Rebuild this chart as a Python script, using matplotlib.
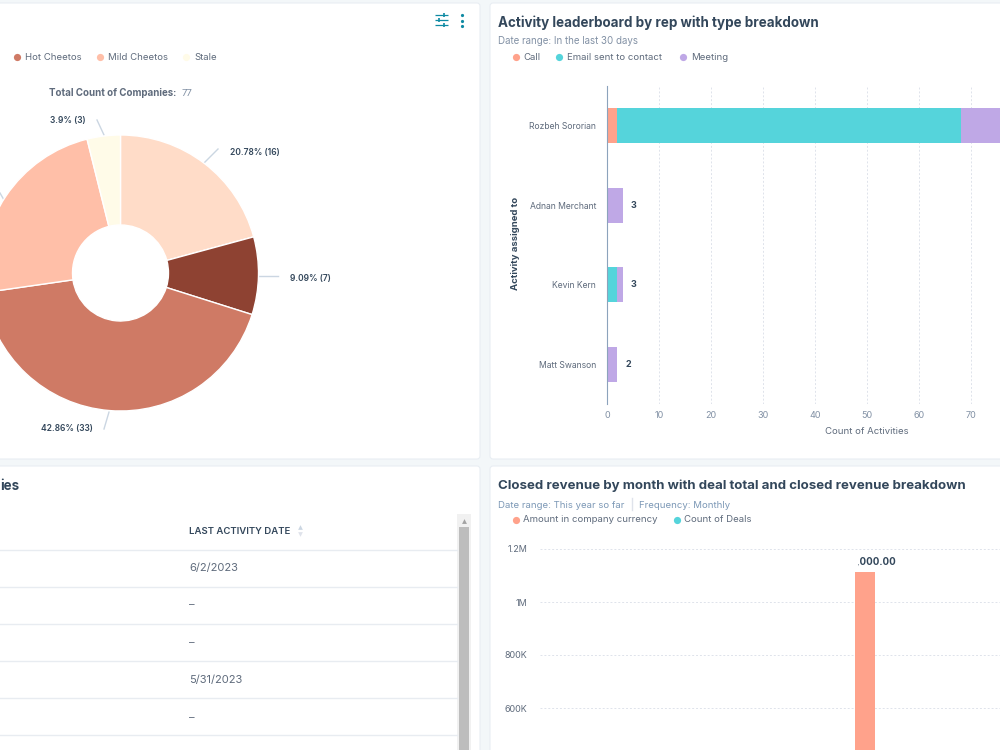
import matplotlib
matplotlib.use('Agg')
import matplotlib.pyplot as plt
from matplotlib.patches import FancyBboxPatch, Rectangle

plt.rcParams['font.family'] = ['Inter', 'DejaVu Sans']

# 회사 상태별 파이 차트 값
pie_values = [16, 7, 33, 18, 3]
pie_colors = ['#FFDCC8', '#8E4232', '#CF7A65', '#FFBFA8', '#FFFBE8']

# 담당자별 활동 수
reps = ['Rozbeh Sororian', 'Adnan Merchant', 'Kevin Kern', 'Matt Swanson']
calls = [2, 0, 0, 0]
emails = [66, 0, 2, 0]
meetings = [8, 3, 1, 2]
activity_ticks = [0, 10, 20, 30, 40, 50, 60, 70]

# 월별 매출
revenue_pos = [0]
revenue_amount = [1113000]
revenue_ticks = [600000, 800000, 1000000, 1200000]
revenue_tick_labels = ['600K', '800K', '1M', '1.2M']

# 표의 마지막 활동 날짜
last_activity = ['6/2/2023', '-', '-', '5/31/2023', '-']

DARK = '#33475B'
TEXT = '#5F6B7C'
MUTED = '#8291A5'
BLUE = '#7C98B6'
GRID = '#DFE3EB'
CALL = '#FFA28B'
EMAIL = '#55D4DB'
MEETING = '#BFA8E6'
TEAL = '#0F8AA3'

fig = plt.figure(figsize=(10, 7.5), dpi=100, facecolor='#F3F7F9')


def px_axes(left, top, right, bottom):
    return fig.add_axes([left / 1000, 1 - bottom / 750, (right - left) / 1000, (bottom - top) / 750])


# 배경 카드와 글자를 그리는 전체 좌표계
page = fig.add_axes([0, 0, 1, 1])
page.set_xlim(0, 1000)
page.set_ylim(750, 0)
page.axis('off')

for x0, y0, x1, y1 in [(-20, 3, 480, 459), (490, 3, 1020, 459), (-20, 466, 480, 770), (490, 466, 1020, 770)]:
    page.add_patch(FancyBboxPatch((x0, y0), x1 - x0, y1 - y0, boxstyle='round,pad=0,rounding_size=3',
                                  facecolor='white', edgecolor='#E9EEF3', linewidth=0.8))

# 오른쪽 위 아이콘
for y, knob in [(15, 444), (20, 439), (25, 444)]:
    page.plot([435, 448], [y, y], color=TEAL, lw=0.9, solid_capstyle='butt')
    page.plot([knob, knob], [y - 2, y + 2], color=TEAL, lw=1.2, solid_capstyle='butt')
for y in [15, 20.5, 26]:
    page.plot([462], [y], 'o', color=TEAL, ms=2.3, mew=0)


def legend(items, y):
    for dot_x, text_x, label, color in items:
        page.plot([dot_x], [y], 'o', color=color, ms=5.2, mew=0)
        page.text(text_x, y, label, fontsize=6.9, color=TEXT, va='center')


# 왼쪽 위: 파이 차트 주변 텍스트
legend([(17, 25, 'Hot Cheetos', '#CF7A65'), (100, 108, 'Mild Cheetos', '#FFBFA8'),
        (186, 194, 'Stale', '#FFFBE8')], 57)
page.text(49, 93, 'Total Count of Companies:', fontsize=7.0, fontweight='bold', color=TEXT, va='center')
page.text(182, 93, '77', fontsize=6.9, color=MUTED, va='center')

pie_labels = [(50, 121, '3.9% (3)'), (230, 152, '20.78% (16)'), (290, 278, '9.09% (7)'), (41, 428, '42.86% (33)')]
for x, y, label in pie_labels:
    page.text(x, y, label, fontsize=6.1, fontweight='semibold', color=DARK, va='center')
for xs, ys in [([97, 104], [120, 135]), ([218, 204], [149, 163]), ([258, 278], [276, 276]),
               ([109, 104], [412, 429]), ([0, 4], [193, 200])]:
    page.plot(xs, ys, color='#CBD6E2', lw=1)

# 오른쪽 위: 제목과 범례
page.text(498, 23, 'Activity leaderboard by rep with type breakdown', fontsize=9.65, fontweight='bold',
          color=DARK, va='center')
page.text(498, 41, 'Date range: In the last 30 days', fontsize=7.0, color=MUTED, va='center')
legend([(516, 523, 'Call', CALL), (559, 567, 'Email sent to contact', EMAIL), (683, 691, 'Meeting', MEETING)], 57)
page.text(516, 243, 'Activity assigned to', fontsize=6.9, fontweight='bold', color=DARK, rotation=90,
          ha='center', va='center')

# 왼쪽 아래: 표
page.text(0, 486, 'ies', fontsize=9.65, fontweight='bold', color=DARK, va='center')
page.text(189, 531, 'LAST ACTIVITY DATE', fontsize=6.9, fontweight='semibold', color=DARK, va='center')
page.plot([300], [527], '^', color='#CBD6E2', ms=3.4, mew=0)
page.plot([300], [534], 'v', color='#DFE3EB', ms=3.4, mew=0)
for y in [549.5, 586.5, 623.5, 661, 698, 735]:
    page.plot([-5, 457], [y, y], color='#E8ECF1', lw=1)
for y, value in zip([568, 605.5, 643, 680, 718], last_activity):
    page.text(189, y, value if value != '-' else '\u2013', fontsize=8.0, color=TEXT, va='center')
page.add_patch(Rectangle((457, 514), 13.5, 240, facecolor='#F1F1F1', edgecolor='none'))
page.add_patch(Rectangle((458.5, 527), 10.5, 225, facecolor='#BDBDBD', edgecolor='none'))
page.plot([463.5], [520.5], '^', color='#A3A3A3', ms=3.5, mew=0)

# 오른쪽 아래: 제목과 범례
page.text(498, 486, 'Closed revenue by month with deal total and closed revenue breakdown', fontsize=9.55,
          fontweight='bold', color=DARK, va='center')
page.text(498, 505, 'Date range: This year so far', fontsize=6.9, color=BLUE, va='center')
page.plot([631.5, 631.5], [498, 510], color=GRID, lw=1)
page.text(639, 505, 'Frequency: Monthly', fontsize=6.9, color=BLUE, va='center')
legend([(516, 523, 'Amount in company currency', CALL), (677, 684, 'Count of Deals', EMAIL)], 520)

# 파이 차트
ax_pie = px_axes(0, 0, 480, 750)
ax_pie.pie(pie_values, colors=pie_colors, startangle=90, counterclock=False, radius=138, center=(120.5, 477),
           wedgeprops=dict(width=90, edgecolor='white', linewidth=1))
ax_pie.set_xlim(0, 480)
ax_pie.set_ylim(0, 750)

# 활동 가로 누적 막대
ax_bar = px_axes(607, 86, 1127, 404)
ax_bar.patch.set_alpha(0)
y_pos = list(range(len(reps)))
lefts_email = calls
lefts_meeting = [c + e for c, e in zip(calls, emails)]
ax_bar.barh(y_pos, calls, 0.44, color=CALL, zorder=3)
ax_bar.barh(y_pos, emails, 0.44, left=lefts_email, color=EMAIL, zorder=3)
ax_bar.barh(y_pos, meetings, 0.44, left=lefts_meeting, color=MEETING, zorder=3)
ax_bar.set_xlim(0, 100)
ax_bar.set_ylim(3.5, -0.5)
ax_bar.set_yticks(y_pos)
ax_bar.set_yticklabels(reps, fontsize=6.2, color=TEXT)
ax_bar.set_xticks(activity_ticks)
ax_bar.set_xticklabels(activity_ticks, fontsize=6.5, color=MUTED)
ax_bar.tick_params(axis='x', length=0, pad=5)
ax_bar.tick_params(axis='y', length=0, pad=8)
ax_bar.grid(axis='x', color=GRID, ls=(0, (2, 2)), lw=0.7, zorder=0)
ax_bar.set_xlabel('Count of Activities', fontsize=6.9, color=TEXT, labelpad=5)
for name in ['top', 'right', 'bottom']:
    ax_bar.spines[name].set_visible(False)
ax_bar.spines['left'].set_color('#8CA3BC')
ax_bar.spines['left'].set_zorder(4)
for i in y_pos:
    total = lefts_meeting[i] + meetings[i]
    if total < 70:
        ax_bar.annotate(total, (total, i), xytext=(6, 0), textcoords='offset points', fontsize=6.5,
                        fontweight='bold', color=DARK, va='center')

# 월별 매출 막대
ax_rev = px_axes(540, 500, 1000, 867)
ax_rev.patch.set_alpha(0)
ax_rev.bar(revenue_pos, revenue_amount, 0.3, color=CALL, zorder=3)
ax_rev.set_xlim(-325 / 69, 135 / 69)
ax_rev.set_ylim(0, 367 / 53 * 200000)
ax_rev.set_xticks([])
ax_rev.set_yticks(revenue_ticks)
ax_rev.set_yticklabels(revenue_tick_labels, fontsize=6.5, color=TEXT)
ax_rev.tick_params(length=0, pad=9)
ax_rev.grid(axis='y', color=GRID, ls=(0, (2, 2)), lw=0.7, zorder=0)
for spine in ax_rev.spines.values():
    spine.set_visible(False)

# 값 라벨 왼쪽은 잘려서 보인다
for x, v in zip(revenue_pos, revenue_amount):
    label = ax_rev.annotate(f'{v:,.2f}', (x, v), xytext=(0, 5), textcoords='offset points', ha='center',
                            fontsize=7.0, fontweight='bold', color=DARK, annotation_clip=False)
    label.set_clip_on(True)
    label.set_clip_path(Rectangle((858, 500), 142, 200, transform=page.transData))

fig.savefig('out.png', dpi=100, facecolor=fig.get_facecolor())
